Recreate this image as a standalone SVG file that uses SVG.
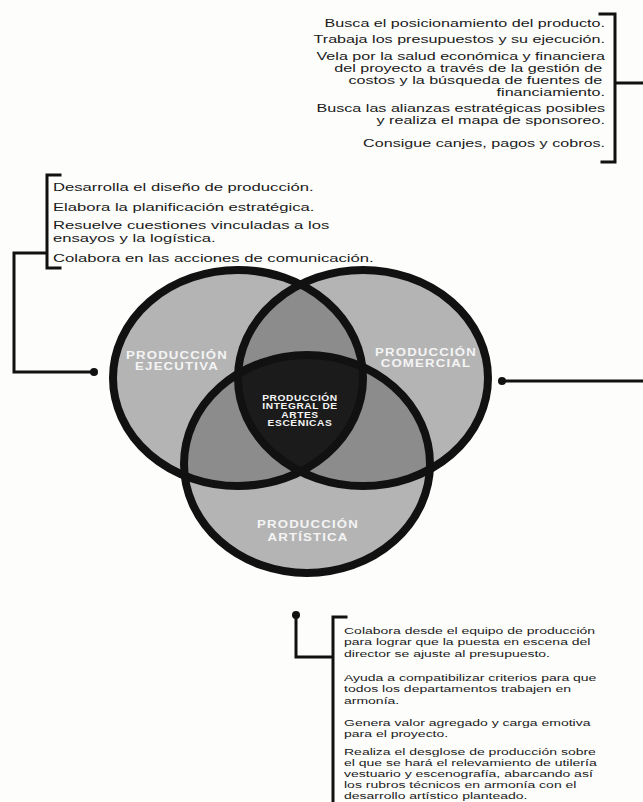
<svg xmlns="http://www.w3.org/2000/svg" width="643" height="802" viewBox="0 0 643 802">
<style>
.txt{font-family:"Liberation Sans",Arial,sans-serif;fill:#1a1a1a}
.lbl{font-family:"Liberation Sans",Arial,sans-serif;font-weight:bold;fill:#f4f4f4;text-anchor:middle}
.ring{fill:none;stroke:#111;stroke-width:8}
.con{fill:none;stroke:#111;stroke-width:3;stroke-linecap:square}
.dot{fill:#111}
</style>
<defs>
<ellipse id="eL" cx="238" cy="378" rx="125" ry="108"/>
<ellipse id="eR" cx="363" cy="378" rx="125" ry="108"/>
<ellipse id="eB" cx="307" cy="464" rx="123" ry="109"/>
<clipPath id="cL"><use href="#eL"/></clipPath>
<clipPath id="cR"><use href="#eR"/></clipPath>
<clipPath id="cB"><use href="#eB"/></clipPath>
</defs>
<rect width="643" height="802" fill="#fdfdfb"/>

<g id="venn">
<use href="#eL" fill="#b4b4b4"/>
<use href="#eR" fill="#b4b4b4"/>
<use href="#eB" fill="#b4b4b4"/>
<use href="#eR" fill="#8c8c8c" clip-path="url(#cL)"/>
<use href="#eB" fill="#8c8c8c" clip-path="url(#cL)"/>
<use href="#eB" fill="#8c8c8c" clip-path="url(#cR)"/>
<g clip-path="url(#cL)"><use href="#eB" fill="#1b1b1b" clip-path="url(#cR)"/></g>
<use href="#eL" class="ring"/>
<use href="#eR" class="ring"/>
<use href="#eB" class="ring"/>
</g>

<g id="produccion-ejecutiva">
<g transform="translate(177,0) scale(1.2,1)">
<text class="lbl" font-size="11" letter-spacing="1" x="0" y="359">PRODUCCIÓN</text>
<text class="lbl" font-size="11" letter-spacing="1" x="0" y="370.5">EJECUTIVA</text>
</g>
</g>
<g id="produccion-comercial">
<g transform="translate(426,0) scale(1.2,1)">
<text class="lbl" font-size="11" letter-spacing="1" x="0" y="356">PRODUCCIÓN</text>
<text class="lbl" font-size="11" letter-spacing="1" x="0" y="367.5">COMERCIAL</text>
</g>
</g>
<g id="produccion-artistica">
<g transform="translate(308,0) scale(1.2,1)">
<text class="lbl" font-size="11" letter-spacing="1" x="0" y="528">PRODUCCIÓN</text>
<text class="lbl" font-size="11" letter-spacing="1" x="0" y="541">ARTÍSTICA</text>
</g>
</g>
<g id="produccion-integral">
<g transform="translate(300,0) scale(1.2,1)">
<text class="lbl" font-size="8.5" letter-spacing="0.5" x="0" y="401">PRODUCCIÓN</text>
<text class="lbl" font-size="8.5" letter-spacing="0.5" x="0" y="409.5">INTEGRAL DE</text>
<text class="lbl" font-size="8.5" letter-spacing="0.5" x="0" y="418">ARTES</text>
<text class="lbl" font-size="8.5" letter-spacing="0.5" x="0" y="426.5">ESCÉNICAS</text>
</g>
</g>

<g id="texto-comercial">
<g transform="translate(605,0) scale(1.44,1)" class="txt" font-size="11.2" text-anchor="end">
<text x="0" y="27">Busca el posicionamiento del producto.</text>
<text x="0" y="43">Trabaja los presupuestos y su ejecución.</text>
<text x="0" y="60">Vela por la salud económica y financiera</text>
<text x="-2" y="72">del proyecto a través de la gestión de</text>
<text x="-2" y="84">costos y la búsqueda de fuentes de</text>
<text x="0" y="96">financiamiento.</text>
<text x="0" y="112">Busca las alianzas estratégicas posibles</text>
<text x="0" y="124">y realiza el mapa de sponsoreo.</text>
<text x="0" y="147">Consigue canjes, pagos y cobros.</text>
</g>
</g>

<g id="texto-ejecutiva">
<g transform="translate(53,0) scale(1.41,1)" class="txt" font-size="11.8">
<text x="0" y="191">Desarrolla el diseño de producción.</text>
<text x="0" y="211">Elabora la planificación estratégica.</text>
<text x="0" y="229">Resuelve cuestiones vinculadas a los</text>
<text x="0" y="242">ensayos y la logística.</text>
<text x="0" y="262">Colabora en las acciones de comunicación.</text>
</g>
</g>

<g id="texto-artistica">
<g transform="translate(344,0) scale(1.415,1)" class="txt" font-size="9.9">
<text x="0" y="634">Colabora desde el equipo de producción</text>
<text x="0" y="645.5">para lograr que la puesta en escena del</text>
<text x="0" y="657">director se ajuste al presupuesto.</text>
<text x="0" y="681">Ayuda a compatibilizar criterios para que</text>
<text x="0" y="692.5">todos los departamentos trabajen en</text>
<text x="0" y="704">armonía.</text>
<text x="0" y="726">Genera valor agregado y carga emotiva</text>
<text x="0" y="737.5">para el proyecto.</text>
<text x="0" y="755.5">Realiza el desglose de producción sobre</text>
<text x="0" y="766.5">el que se hará el relevamiento de utilería</text>
<text x="0" y="777.5">vestuario y escenografía, abarcando así</text>
<text x="0" y="788.5">los rubros técnicos en armonía con el</text>
<text x="0" y="799.3">desarrollo artístico planteado.</text>
</g>
</g>

<g id="connectors">
<path class="con" d="M600,14 H615 V162 H602 M615,83 H645"/>
<path class="con" d="M502,381 H645" stroke-width="2.5"/>
<circle class="dot" cx="502" cy="381" r="4"/>
<path class="con" d="M60,175 H47 V268 H60 M47,253 H14 V372 H94"/>
<circle class="dot" cx="94" cy="372" r="4"/>
<path class="con" d="M296,615 V657 H333 M346,617 H333 V805"/>
<circle class="dot" cx="296" cy="615" r="4"/>
</g>
</svg>
